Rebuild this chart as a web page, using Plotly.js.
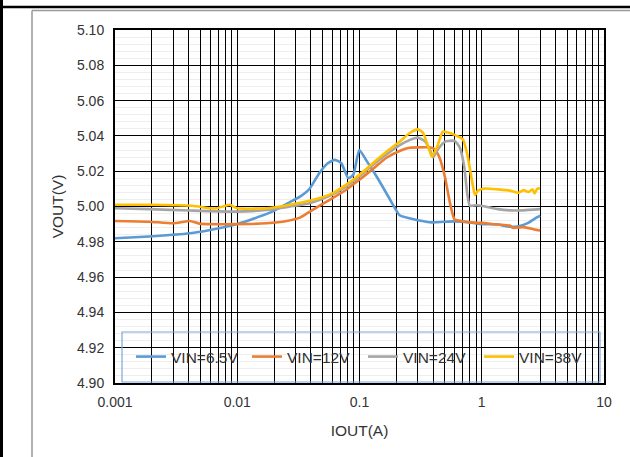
<!DOCTYPE html>
<html>
<head>
<meta charset="utf-8">
<script src="https://cdn.plot.ly/plotly-3.0.1.min.js"></script>
<style>
html,body{margin:0;padding:0;background:#fff;}
#chart{width:630px;height:457px;}
</style>
</head>
<body>
<div id="chart"></div>
<script>
// ---- data ----
const seriesNames = ["VIN=6.5V", "VIN=12V", "VIN=24V", "VIN=38V"];
const seriesColors = ["#5B9BD5", "#ED7D31", "#A5A5A5", "#FFC000"];

const x65 = [0.001,0.0019,0.0041,0.006,0.0093,0.0127,0.0185,0.027,0.0326,0.039,0.047,0.055,0.063,0.071,0.081,0.089,0.0996,0.114,0.138,0.166,0.195,0.213,0.256,0.3,0.39,0.6,0.8,1.0,1.35,1.7,2.0,2.4,2.7,3.0];
const y65 = [4.982,4.983,4.9848,4.9867,4.9895,4.9924,4.9965,5.0025,5.0056,5.010,5.019,5.0245,5.0264,5.0245,5.016,5.018,5.032,5.026,5.017,5.0075,4.999,4.995,4.9933,4.9922,4.991,4.9916,4.991,4.990,4.9898,4.9885,4.9888,4.9907,4.993,4.9948];

const x12 = [0.001,0.0019,0.003,0.0041,0.0049,0.0093,0.0174,0.0254,0.0326,0.039,0.057,0.078,0.1,0.13,0.166,0.215,0.256,0.3,0.37,0.41,0.45,0.5,0.55,0.6,0.7,0.8,1.0,1.35,1.7,1.8,2.2,2.7,3.0];
const y12 = [4.9918,4.9914,4.9905,4.9918,4.9903,4.990,4.9905,4.9918,4.9937,4.997,5.0038,5.0095,5.0152,5.0215,5.0276,5.0316,5.0333,5.0335,5.0335,5.0326,5.0279,5.0167,5.0019,4.9926,4.9916,4.991,4.9907,4.9898,4.9892,4.9879,4.9883,4.987,4.9864];

const x24 = [0.001,0.0019,0.0041,0.0093,0.0174,0.027,0.039,0.057,0.078,0.1,0.13,0.166,0.215,0.256,0.3,0.34,0.38,0.4,0.44,0.5,0.6,0.66,0.72,0.76,0.8,0.9,1.07,1.35,1.7,2.2,3.0];
const y24 = [4.999,4.9985,4.9977,4.9971,4.998,5.000,5.0019,5.006,5.0114,5.0171,5.0238,5.0295,5.0349,5.0376,5.039,5.0372,5.0316,5.0279,5.0326,5.0368,5.0372,5.0335,5.0223,5.0074,5.0004,5.0007,5.000,4.9985,4.9978,4.9978,4.9985];

const x38 = [0.001,0.0019,0.0043,0.006,0.0068,0.0087,0.01,0.0174,0.027,0.039,0.057,0.078,0.1,0.13,0.166,0.215,0.256,0.3,0.33,0.37,0.39,0.43,0.48,0.53,0.6,0.7,0.76,0.84,0.88,0.93,1.07,1.35,1.7,2.0,2.2,2.4,2.6,2.7,2.85,3.0];
const y38 = [5.001,5.001,5.0004,4.999,4.999,5.001,4.999,4.999,5.001,5.0032,5.0067,5.0124,5.018,5.0248,5.031,5.037,5.0415,5.0437,5.0419,5.0326,5.0283,5.0335,5.0424,5.0419,5.0406,5.0381,5.0298,5.013,5.0065,5.009,5.0102,5.0097,5.009,5.0078,5.0093,5.0082,5.0097,5.0074,5.0102,5.0102];

const xTickVals = [0.001, 0.01, 0.1, 1, 10];
const xTickText = ["0.001", "0.01", "0.1", "1", "10"];

// ---- build ----
const xs = [x65, x12, x24, x38];
const ys = [y65, y12, y24, y38];
const traces = seriesNames.map((n, i) => ({
  type: "scatter", mode: "lines", name: n,
  x: xs[i], y: ys[i],
  line: {color: seriesColors[i], width: 2.6, shape: "spline", smoothing: 0.5}
}));

// log grid: every 1..9 multiple within each decade, labels only on decades
const gridVals = [], gridText = [];
xTickVals.forEach((d, k) => {
  const last = k === xTickVals.length - 1;
  for (let m = 1; m <= (last ? 1 : 9); m++) {
    gridVals.push(+(d * m).toPrecision(3));
    gridText.push(m === 1 ? xTickText[k] : "");
  }
});

const fam = "Liberation Sans, Arial, sans-serif";
const tickFont = {family: fam, size: 14, color: "#333"};
const bigFont = {family: fam, size: 15.5, color: "#333"};

// pixel -> paper helpers for decoration (plot area 115..604 x, 30..383 y)
const L = 115, R = 604, T = 30, B = 383;
const px = p => (p - L) / (R - L);
const py = p => (B - p) / (B - T);

const layout = {
  width: 630, height: 457,
  margin: {l: L, r: 630 - R, t: T, b: 457 - B},
  paper_bgcolor: "#fff", plot_bgcolor: "#fff",
  font: tickFont,
  showlegend: true,
  legend: {
    orientation: "h", x: px(131), y: py(357), xanchor: "left", yanchor: "middle",
    bgcolor: "rgba(0,0,0,0)", borderwidth: 0,
    entrywidth: 71, entrywidthmode: "pixels",
    font: bigFont
  },
  xaxis: {
    type: "log", range: [-3, 1],
    tickmode: "array", tickvals: gridVals, ticktext: gridText,
    showgrid: true, gridcolor: "#000", gridwidth: 1,
    showline: true, linecolor: "#000", linewidth: 2, mirror: true,
    ticks: "", zeroline: false, ticklabelstandoff: 5,
    tickfont: tickFont,
    title: {text: "IOUT(A)", font: bigFont, standoff: 16}
  },
  yaxis: {
    range: [4.90, 5.10], dtick: 0.02, tick0: 4.90, tickformat: ".2f",
    showgrid: true, gridcolor: "#000", gridwidth: 1,
    minor: {dtick: 0.004, showgrid: true, gridcolor: "#eeeeee", gridwidth: 1, ticks: ""},
    showline: true, linecolor: "#000", linewidth: 2, mirror: true,
    ticks: "", zeroline: false, ticklabelstandoff: 6,
    tickfont: tickFont,
    title: {text: "VOUT(V)", font: bigFont, standoff: 10}
  },
  shapes: [
    // legend box
    {type: "rect", xref: "paper", yref: "paper", x0: px(122), x1: px(600), y0: py(382), y1: py(332),
     line: {color: "#7EA6DC", width: 1.2}, fillcolor: "rgba(0,0,0,0)", layer: "above"},
    // outer frame decorations
    {type: "line", xref: "paper", yref: "paper", x0: px(1.5), x1: px(1.5), y0: py(0), y1: py(457),
     line: {color: "#000", width: 3}},
    {type: "line", xref: "paper", yref: "paper", x0: px(0), x1: px(630), y0: py(7), y1: py(7),
     line: {color: "#000", width: 2.5}},
    {type: "line", xref: "paper", yref: "paper", x0: px(32), x1: px(630), y0: py(10.5), y1: py(10.5),
     line: {color: "#999", width: 1.5}},
    {type: "line", xref: "paper", yref: "paper", x0: px(32), x1: px(32), y0: py(10.5), y1: py(457),
     line: {color: "#999", width: 1.5}}
  ]
};

Plotly.newPlot("chart", traces, layout, {displayModeBar: false, staticPlot: true});
</script>
</body>
</html>
